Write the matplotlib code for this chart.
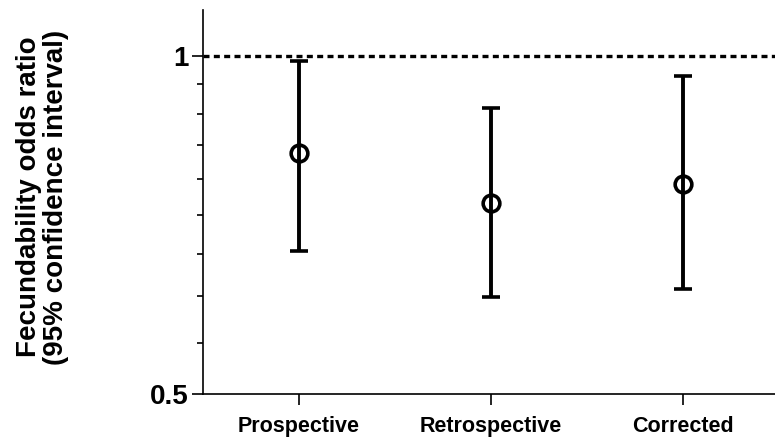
import matplotlib
matplotlib.use("Agg")
import matplotlib.pyplot as plt
from matplotlib.ticker import FixedLocator, NullFormatter

categories = ["Prospective", "Retrospective", "Corrected"]
odds_ratio = [0.82, 0.74, 0.77]
ci_low = [0.67, 0.61, 0.62]
ci_high = [0.99, 0.90, 0.96]
major_ticks = [0.5, 1.0]
major_labels = ["0.5", "1"]
minor_ticks = [0.5 + k * 0.5 / 9 for k in range(1, 9)]

plt.rcParams['font.family'] = ['Liberation Sans', 'DejaVu Sans']
plt.rcParams['font.weight'] = 'bold'

fig = plt.figure(figsize=(7.75, 4.43), dpi=100)
ax = fig.add_axes([203/775, 1-394/443, 1-203/775, (394-10)/443])

x = list(range(len(categories)))
yerr = [[o - l for o, l in zip(odds_ratio, ci_low)], [h - o for o, h in zip(odds_ratio, ci_high)]]
ax.axhline(1.0, color='black', lw=2.4, ls=(0, (1.8, 1.3)), zorder=1)
ax.errorbar(x, odds_ratio, yerr=yerr, fmt='o', color='black', mfc='none', mec='black',
            ms=12, mew=2.6, elinewidth=2.8, capsize=6.5, capthick=2.8, zorder=3)

ax.set_yscale('log')
ax.set_ylim(0.5, 1.10)
ax.set_xlim(-0.5, 2.48)
ax.yaxis.set_major_locator(FixedLocator(major_ticks))
ax.set_yticklabels(major_labels)
ax.yaxis.set_minor_locator(FixedLocator(minor_ticks))
ax.yaxis.set_minor_formatter(NullFormatter())
ax.set_xticks(x)
ax.set_xticklabels(categories, fontsize=15.5, fontweight='bold')

for s in ['top', 'right']:
    ax.spines[s].set_visible(False)
for s in ['left', 'bottom']:
    ax.spines[s].set_linewidth(1.2)

ax.tick_params(axis='y', which='major', length=8, width=1.2, labelsize=20, pad=2)
ax.tick_params(axis='y', which='minor', length=4.5, width=1.2)
ax.tick_params(axis='x', which='major', length=8, width=1.2, pad=8)
for t in ax.get_yticklabels():
    t.set_fontweight('bold')

fig.text(43/775, 1-197/443, "Fecundability odds ratio\n(95% confidence interval)",
         rotation=90, ha='center', va='center', fontsize=20, fontweight='bold',
         multialignment='center', linespacing=1.05)

fig.savefig("out.png", dpi=100)
